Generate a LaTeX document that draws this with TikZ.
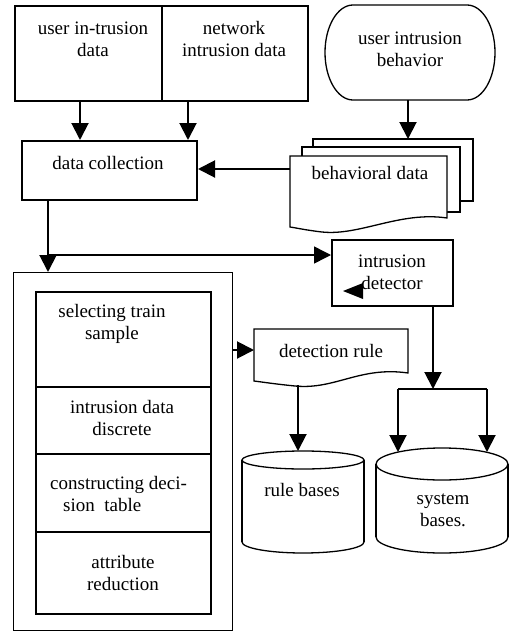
\documentclass[tikz,border=0pt]{standalone}
\usepackage{fontspec}
\setmainfont{Liberation Serif}
\usetikzlibrary{arrows.meta}
\begin{document}
\begin{tikzpicture}[x=1pt,y=-1pt,
  font=\fontsize{19}{22}\selectfont,
  box/.style={draw, line width=2pt, inner sep=0pt, anchor=north west},
  thinbox/.style={draw, line width=1.3pt, inner sep=0pt, anchor=north west},
  outline/.style={draw, line width=1.3pt},
  lbl/.style={align=center, inner sep=0pt},
  arr/.style={line width=2pt, -{Triangle[length=17pt,width=17pt]}},
  link/.style={line width=2pt},
]
\useasboundingbox (0,0) rectangle (509,632);

% ---- rectangular boxes
\node[box, minimum width=147, minimum height=95] (uid) at (14,5) {};
\node[box, minimum width=146, minimum height=95] (nid) at (161,5) {};
\node[box, minimum width=175, minimum height=59] (dc) at (21,140) {};
\node[box, minimum width=121, minimum height=66] (idet) at (331,239) {};
\node[thinbox, minimum width=219, minimum height=358] (outer) at (13,272) {};
\node[box, minimum width=175, minimum height=95] (s1) at (35,291) {};
\node[box, minimum width=175, minimum height=67] (s2) at (35,386) {};
\node[box, minimum width=175, minimum height=78] (s3) at (35,453) {};
\node[box, minimum width=175, minimum height=82] (s4) at (35,531) {};

% ---- terminal shape
\draw[outline] (353,5) -- (467,5)
  .. controls (482.5,5) and (495,26.3) .. (495,52.5)
  .. controls (495,78.7) and (482.5,100) .. (467,100) -- (353,100)
  .. controls (337.5,100) and (325,78.7) .. (325,52.5)
  .. controls (325,26.3) and (337.5,5) .. (353,5) -- cycle;

% ---- stacked documents
\draw[outline, fill=white] (313,139) -- (473,139) -- (473,201) -- (313,201) -- cycle;
\draw[outline, fill=white] (302,147) -- (460,147) -- (460,212) -- (302,212) -- cycle;
\draw[outline, fill=white] (290,156) -- (447,156) -- (447,218)
  .. controls (400,211) and (360,236) .. (322,232)
  .. controls (305,230) and (297,228) .. (290,227) -- cycle;

% ---- single document
\draw[outline, fill=white] (254,329) -- (408,329) -- (408,373)
  .. controls (360,366) and (335,390) .. (295,386)
  .. controls (275,384) and (262,382) .. (254,381) -- cycle;

% ---- cylinders
\draw[outline, fill=white] (303,542) ellipse [x radius=61, y radius=11];
\fill[white] (242,460) rectangle (364,542);
\draw[outline] (242,460) -- (242,542) (364,460) -- (364,542);
\draw[outline, fill=white] (303,460) ellipse [x radius=61, y radius=9];

\draw[outline, fill=white] (442,537) ellipse [x radius=66, y radius=16];
\fill[white] (376,464) rectangle (508,537);
\draw[outline] (376,464) -- (376,537) (508,464) -- (508,537);
\draw[outline, fill=white] (442,464) ellipse [x radius=66, y radius=16];

% ---- labels
\node[lbl] (tuid) at (93,39) {user in-trusion\\data};
\node[lbl] (tnid) at (234,39) {network\\intrusion data};
\node[lbl] (tdc) at (108,163) {data collection};
\node[lbl] (tuib) at (410,49) {user intrusion\\behavior};
\node[lbl] (tbd) at (370,173) {behavioral data};
\node[lbl] (tid) at (392,272) {intrusion\\detector};
\node[lbl] (ts1) at (112,324) {selecting train\\sample};
\node[lbl] (ts2) at (122,418) {intrusion data\\discrete};
\node[lbl, align=left, anchor=west] (ts3) at (50,494) {constructing deci-\\\hspace*{13pt}sion\ \ table};
\node[lbl] (ts4) at (123,573) {attribute\\reduction};
\node[lbl] (tdr) at (331,351) {detection rule};
\node[lbl] (trb) at (302,490) {rule bases};
\node[lbl] (tsb) at (443,510) {system\\bases.};

% ---- connection points
\coordinate (c1) at (80,120);
\coordinate (c2) at (188,120);
\coordinate (uibS) at (408,100);
\coordinate (bdT) at (408,139);
\coordinate (bdW) at (290,169);
\coordinate (jn) at (48,255);
\coordinate (drW) at (254,350);
\coordinate (drS) at (298,385);
\coordinate (rbT) at (298,451);
\coordinate (fork) at (433,389);
\coordinate (fl) at (398,389);
\coordinate (fr) at (487,389);
\coordinate (sbL) at (398,452);
\coordinate (sbR) at (487,452);

% ---- connectors
\draw[arr] (uid.south -| c1) -- (dc.north -| c1);
\draw[arr] (nid.south -| c2) -- (dc.north -| c2);
\draw[arr] (uibS) -- (bdT);
\draw[arr] (bdW) -- (dc.east |- bdW);
\draw[arr] (dc.south -| jn) -- (outer.north -| jn);
\draw[arr, line width=1.5pt] (jn) -- (idet.west |- jn);
\draw[arr] (outer.east |- drW) -- (drW);
\draw[arr] (drS) -- (rbT);
\draw[arr] (idet.south -| fork) -- (fork);
\draw[link] (fl) -- (fr);
\draw[arr] (fl) -- (sbL);
\draw[arr] (fr) -- (sbR);

% ---- small marker inside the detector box
\fill (343,291) -- (363,283) -- (363,299) -- cycle;
\end{tikzpicture}
\end{document}
